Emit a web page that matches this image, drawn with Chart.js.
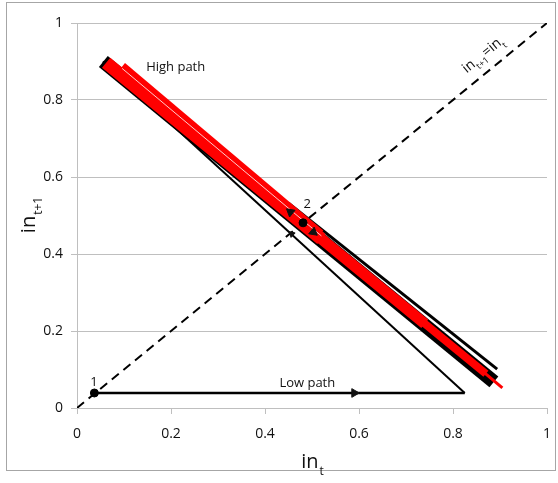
<!DOCTYPE html>
<html><head><meta charset="utf-8">
<script src="https://cdn.jsdelivr.net/npm/chart.js@4.4.0/dist/chart.umd.min.js"></script>
<style>html,body{margin:0;padding:0;background:#fff}#wrap{position:relative;width:558px;height:483px}</style>
</head><body><div id="wrap"><canvas id="c" width="558" height="483"></canvas></div>
<script>
// ---- data ----
const axisTicks = [0, 0.2, 0.4, 0.6, 0.8, 1];
const diagX = [0, 1], diagY = [0, 1];
const lowPathX = [0.037, 0.825], lowPathY = [0.039, 0.039];
const returnX = [0.825, 0.055], returnY = [0.039, 0.900];
const highBlackX = [0.056, 0.887], highBlackY = [0.900, 0.068];
const redWideX = [0.062, 0.520], redWideY = [0.897, 0.439];
const redMidX = [0.500, 0.740], redMidY = [0.459, 0.219];
const redNarrowX = [0.720, 0.870], redNarrowY = [0.239, 0.089];
const redTailX = [0.850, 0.905], redTailY = [0.109, 0.052];
const redStripX = [0.098, 0.520], redStripY = [0.890, 0.455];
const gapX = [0.096, 0.520], gapY = [0.882, 0.447];
const upperBlackX = [0.450, 0.894], upperBlackY = [0.532, 0.101];
const pointsX = [0.037, 0.481], pointsY = [0.039, 0.481];
const arrowX = [0.590, 0.454, 0.503, 0.457], arrowY = [0.039, 0.509, 0.457, 0.452];
const arrowRot = [90, -50.7, 129.3, -47.6];
const arrowSize = [5, 5, 5, 3.5];
const labels = [
  {text: 'High path', x: 0.21, y: 0.885},
  {text: 'Low path', x: 0.49, y: 0.065},
  {text: '2', x: 0.49, y: 0.528},
  {text: '1', x: 0.036, y: 0.068}
];

const pts = (xs, ys) => xs.map((x, i) => ({x, y: ys[i]}));
const line = (xs, ys, color, width, order, extra) => Object.assign({
  data: pts(xs, ys), showLine: true, borderColor: color, backgroundColor: color,
  borderWidth: width, pointRadius: 0, order: order, borderCapStyle: 'butt'
}, extra || {});

const FONT = "'Open Sans', 'Noto Sans', sans-serif";

const annot = {
  id: 'annot',
  beforeDraw(chart) {
    const ctx = chart.ctx;
    ctx.save();
    ctx.strokeStyle = '#a6a6a6';
    ctx.lineWidth = 1;
    ctx.strokeRect(6.5, 2.5, 549, 468);
    ctx.restore();
  },
  afterDraw(chart) {
    const ctx = chart.ctx, xs = chart.scales.x, ys = chart.scales.y;
    ctx.save();
    ctx.fillStyle = '#111';
    ctx.textAlign = 'center';
    ctx.textBaseline = 'middle';
    ctx.font = "13px " + FONT;
    labels.forEach(l => ctx.fillText(l.text, xs.getPixelForValue(l.x), ys.getPixelForValue(l.y)));
    // diagonal label
    const dx = xs.getPixelForValue(0.885), dy = ys.getPixelForValue(0.925);
    const ang = Math.atan2(ys.getPixelForValue(1) - ys.getPixelForValue(0), xs.getPixelForValue(1) - xs.getPixelForValue(0));
    ctx.translate(dx, dy);
    ctx.rotate(ang);
    ctx.textAlign = 'left';
    ctx.textBaseline = 'alphabetic';
    let cx = -34;
    const seg = (t, size, off) => { ctx.font = size + "px " + FONT; ctx.fillText(t, cx, off); cx += ctx.measureText(t).width; };
    seg('in', 14, 0); seg('t+1', 9, 5); seg('=in', 14, 0); seg('t', 9, 5);
    ctx.restore();
    // axis titles
    ctx.save();
    ctx.fillStyle = '#111';
    ctx.textBaseline = 'alphabetic';
    ctx.font = "20px " + FONT;
    let w1 = ctx.measureText('in').width;
    ctx.font = "12px " + FONT;
    let w2 = ctx.measureText('t').width;
    let x0 = xs.getPixelForValue(0.5) - (w1 + w2) / 2;
    ctx.font = "20px " + FONT; ctx.fillText('in', x0, 468);
    ctx.font = "12px " + FONT; ctx.fillText('t', x0 + w1 + 1, 475);
    ctx.translate(35, ys.getPixelForValue(0.5));
    ctx.rotate(-Math.PI / 2);
    ctx.font = "12px " + FONT;
    let w3 = ctx.measureText('t+1').width;
    let y0 = -(w1 + w3) / 2;
    ctx.font = "20px " + FONT; ctx.fillText('in', y0, 0);
    ctx.font = "12px " + FONT; ctx.fillText('t+1', y0 + w1 + 1, 7);
    ctx.restore();
  }
};

new Chart(document.getElementById('c'), {
  type: 'scatter',
  data: {
    datasets: [
      {data: pts(arrowX, arrowY), pointStyle: 'triangle', pointRotation: arrowRot, pointRadius: arrowSize,
       backgroundColor: '#111', borderColor: '#111', borderWidth: 1, showLine: false, order: 0},
      {data: pts(pointsX, pointsY), pointStyle: 'circle', pointRadius: 4, backgroundColor: '#000', borderColor: '#000', showLine: false, order: 1},
      line(gapX, gapY, 'rgba(255,225,225,0.9)', 1, 2),
      line(redStripX, redStripY, '#ff0000', 6, 3),
      line(redWideX, redWideY, '#ff0000', 13, 4),
      line(redMidX, redMidY, '#ff0000', 11, 4.1),
      line(redNarrowX, redNarrowY, '#ff0000', 8, 4.2),
      line(redTailX, redTailY, '#ff0000', 3, 4.3),
      line(upperBlackX, upperBlackY, '#000', 3, 5),
      line(highBlackX, highBlackY, '#000', 14, 6),
      line(returnX, returnY, '#000', 2, 7),
      line(lowPathX, lowPathY, '#000', 2.5, 8),
      line(diagX, diagY, '#000', 2, 9, {borderDash: [9, 6]})
    ]
  },
  options: {
    responsive: false, devicePixelRatio: 1, animation: false,
    layout: {padding: {top: 23, right: 11, left: 0, bottom: 0}},
    plugins: {legend: {display: false}, tooltip: {enabled: false}},
    scales: {
      x: {
        type: 'linear', min: 0, max: 1,
        afterBuildTicks: s => { s.ticks = axisTicks.map(v => ({value: v})); },
        afterFit: s => { s.height = 75; s.paddingLeft = 0; s.paddingRight = 0; },
        ticks: {color: '#111', padding: 12, font: {family: FONT, size: 14}, callback: v => String(v)},
        grid: {drawOnChartArea: false, color: '#bfbfbf', tickLength: 6},
        border: {color: '#bfbfbf'}
      },
      y: {
        type: 'linear', min: 0, max: 1,
        afterBuildTicks: s => { s.ticks = axisTicks.map(v => ({value: v})); },
        afterFit: s => { s.width = 77; s.paddingTop = 0; s.paddingBottom = 0; },
        ticks: {color: '#111', padding: 8, font: {family: FONT, size: 14}, callback: v => String(v)},
        grid: {color: '#bfbfbf', tickLength: 6},
        border: {color: '#bfbfbf'}
      }
    }
  },
  plugins: [annot]
});
</script></body></html>
